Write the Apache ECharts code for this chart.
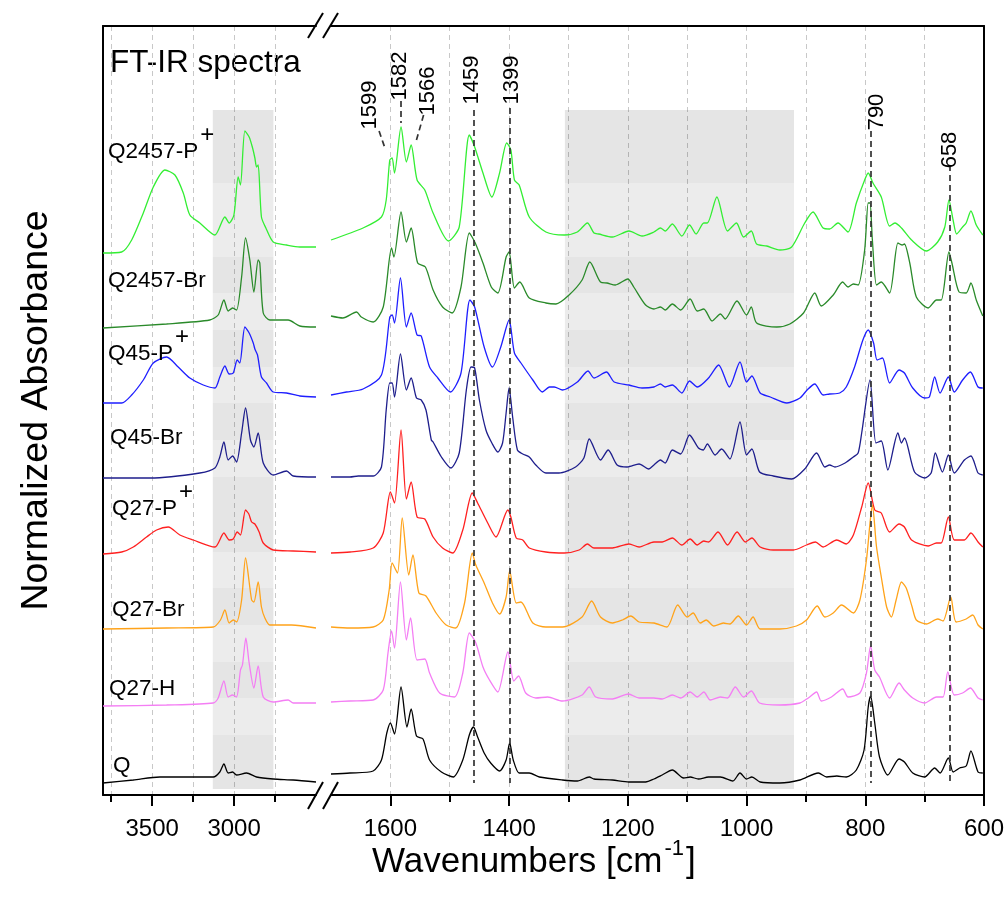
<!DOCTYPE html>
<html><head><meta charset="utf-8">
<script src="https://cdn.jsdelivr.net/npm/echarts@6/dist/echarts.min.js"></script>
<style>html,body{margin:0;padding:0;background:#fff}#c{width:1007px;height:905px}</style>
</head><body><div id="c"></div>
<script>
// ---------------- DATA ----------------
const sampleNames = ['Q2457-P+','Q2457-Br','Q45-P+','Q45-Br','Q27-P+','Q27-Br','Q27-H','Q'];
const leftTicks = [3500, 3000];
const leftMinor = [3750, 3250, 2750];
const rightTicks = [1600, 1400, 1200, 1000, 800, 600];
const rightMinor = [1500, 1300, 1100, 900, 700];
const peakLabels = ['1599','1582','1566','1459','1399','790','658'];
const peakLabelPos = [[1634,690],[1584,719],[1537,704],[1463,715],[1396,715],[781,683],[657,645]];
const peakLines = [[[1619,664],[1608,645]],[[1583,694],[1583,672]],[[1544,680],[1557,653]],
  [[1459,685],[1459,12]],[[1399,687],[1399,12]],[[790,664],[790,12]],[[658,630],[658,12]]];
const sampleLabelPos = [[3769,643],[3769,514],[3769,441],[3757,357],[3745,286],[3745,185],[3763,106],[3739,29]];
const shadeLeft = [3130, 2760];
const shadeRight = [1306, 920];
const shadeBands = [685,612,538,502,465,428,392,355,318,243,207,170,133,97,60,6];

const Q2457P_L = [[3800,542],[3686,543],[3625,555],[3554,582],[3493,608],[3422,625],[3361,620],[3310,602],[3270,580],[3209,572],[3117,560],[3056,578],[3030,572],[3001,580],[2975,618],[2961,610],[2934,664],[2908,658],[2887,647],[2873,637],[2863,628],[2853,630],[2833,578],[2806,567],[2761,553],[2680,550],[2599,548],[2500,548]];
const Q2457Br_L = [[3800,467],[3412,471],[3148,475],[3097,480],[3062,495],[3036,484],[3009,487],[2985,485],[2954,518],[2930,557],[2904,535],[2879,503],[2853,535],[2843,532],[2822,482],[2782,475],[2670,475],[2599,469],[2500,468]];
const Q45P_L = [[3800,392],[3686,392],[3625,400],[3554,415],[3493,432],[3412,438],[3341,428],[3270,417],[3188,410],[3117,407],[3087,418],[3056,429],[3030,421],[3005,422],[2981,435],[2965,432],[2934,468],[2908,462],[2883,452],[2873,446],[2857,440],[2833,418],[2802,412],[2761,403],[2680,402],[2599,399],[2500,398]];
const Q45Br_L = [[3800,317],[3513,317],[3209,322],[3117,327],[3087,338],[3062,353],[3036,335],[3009,339],[2985,333],[2954,362],[2930,387],[2900,355],[2879,348],[2853,362],[2822,332],[2761,320],[2680,324],[2639,319],[2500,318]];
const Q27P_L = [[3800,241],[3686,243],[3615,248],[3534,258],[3473,265],[3402,268],[3331,260],[3249,255],[3117,248],[3062,262],[3030,255],[3005,256],[2981,263],[2961,260],[2930,285],[2910,281],[2893,273],[2873,271],[2847,263],[2822,252],[2761,245],[2639,244],[2500,243]];
const Q27Br_L = [[3800,166],[3412,167],[3127,168],[3083,175],[3056,185],[3030,172],[3005,175],[2985,173],[2954,195],[2930,237],[2893,195],[2879,193],[2853,213],[2833,188],[2812,177],[2782,170],[2649,170],[2500,167]];
const Q27H_L = [[3800,89],[3412,90],[3127,92],[3097,97],[3062,114],[3036,98],[3009,100],[2985,98],[2961,125],[2949,130],[2928,157],[2908,132],[2879,107],[2853,129],[2822,98],[2761,93],[2670,95],[2639,92],[2500,92]];
const Q_L = [[3800,12],[3615,15],[3453,18],[3127,18],[3087,23],[3062,31],[3036,22],[3009,23],[2985,20],[2924,22],[2863,18],[2761,16],[2639,15],[2500,13]];

const Q2457P_R = [[1700,555],[1646,567],[1615,578],[1607,595],[1601,635],[1597,637],[1593,622],[1582,668],[1573,633],[1565,650],[1555,615],[1542,605],[1528,582],[1502,554],[1484,568],[1467,660],[1458,648],[1444,622],[1429,598],[1416,622],[1404,652],[1397,645],[1391,615],[1383,610],[1366,578],[1338,563],[1307,560],[1285,563],[1268,572],[1257,562],[1249,561],[1226,558],[1198,564],[1176,559],[1156,563],[1145,567],[1137,564],[1125,571],[1109,559],[1096,570],[1085,561],[1072,572],[1066,572],[1050,598],[1032,564],[1017,572],[1005,558],[992,564],[983,551],[966,549],[944,545],[924,548],[902,572],[888,583],[871,567],[860,566],[846,572],[829,563],[815,592],[801,615],[795,622],[787,612],[773,598],[759,569],[750,572],[739,567],[722,555],[697,544],[678,553],[666,568],[659,595],[652,575],[646,561],[636,568],[630,572],[622,584],[613,570],[602,560]];
const Q2457Br_R = [[1700,479],[1680,477],[1657,483],[1649,478],[1629,473],[1612,488],[1598,547],[1594,538],[1582,583],[1573,553],[1565,567],[1554,532],[1541,528],[1528,505],[1512,488],[1496,482],[1481,508],[1467,562],[1457,552],[1444,532],[1430,508],[1419,502],[1405,538],[1400,543],[1391,507],[1382,513],[1366,497],[1338,492],[1321,491],[1299,500],[1277,515],[1264,533],[1246,513],[1235,512],[1221,510],[1200,516],[1190,508],[1170,490],[1156,486],[1145,488],[1137,485],[1125,491],[1111,485],[1095,496],[1083,484],[1072,486],[1058,474],[1044,481],[1036,476],[1016,494],[1000,480],[992,488],[983,472],[949,468],[927,471],[904,482],[885,502],[874,489],[854,500],[838,513],[829,508],[820,511],[812,510],[801,545],[795,592],[792,592],[788,555],[781,510],[773,513],[759,502],[745,552],[738,550],[734,551],[725,532],[714,498],[694,487],[680,495],[672,495],[659,543],[654,532],[642,503],[630,502],[622,512],[613,495],[602,479]];
const Q45P_R = [[1700,400],[1674,403],[1646,406],[1615,420],[1601,478],[1597,480],[1593,472],[1583,517],[1573,468],[1565,482],[1555,460],[1548,459],[1534,428],[1520,417],[1499,403],[1481,422],[1466,495],[1458,488],[1442,448],[1428,428],[1414,448],[1400,475],[1391,442],[1380,432],[1360,415],[1344,403],[1332,408],[1324,408],[1310,405],[1285,413],[1267,424],[1257,417],[1236,423],[1223,413],[1198,410],[1176,407],[1156,408],[1145,411],[1137,408],[1125,410],[1109,402],[1096,414],[1083,408],[1064,417],[1047,430],[1029,408],[1011,433],[1000,413],[991,419],[977,402],[960,398],[932,392],[910,397],[898,405],[885,411],[871,400],[860,401],[843,402],[832,408],[818,428],[804,455],[795,465],[786,452],[780,435],[771,437],[759,412],[743,425],[734,422],[720,407],[700,397],[692,398],[683,418],[674,402],[660,418],[650,403],[636,415],[623,423],[610,408],[602,407]];
const Q45Br_R = [[1700,318],[1668,318],[1654,319],[1629,319],[1615,328],[1607,385],[1601,412],[1597,412],[1593,398],[1583,441],[1573,405],[1565,417],[1556,397],[1548,395],[1540,385],[1531,355],[1528,353],[1514,338],[1498,327],[1484,342],[1472,405],[1464,428],[1458,427],[1450,395],[1439,365],[1429,352],[1419,343],[1411,352],[1405,382],[1400,407],[1394,378],[1386,345],[1377,341],[1366,338],[1355,330],[1338,322],[1316,322],[1288,328],[1274,337],[1265,356],[1246,335],[1233,345],[1218,330],[1201,328],[1181,331],[1165,326],[1156,330],[1145,335],[1137,332],[1125,345],[1111,341],[1096,360],[1081,347],[1073,345],[1066,351],[1053,340],[1042,346],[1028,336],[1011,373],[1000,340],[991,346],[978,323],[955,319],[924,316],[902,326],[882,342],[868,328],[860,330],[851,328],[834,332],[820,338],[812,342],[806,362],[792,415],[782,352],[773,354],[762,325],[745,362],[739,352],[734,357],[717,323],[700,317],[689,322],[682,342],[670,323],[660,340],[650,322],[633,335],[622,339],[610,322],[602,320]];
const Q27P_R = [[1700,242],[1668,243],[1629,247],[1612,262],[1600,303],[1593,292],[1582,365],[1573,296],[1565,313],[1555,278],[1542,276],[1528,258],[1512,247],[1495,242],[1478,265],[1462,302],[1453,292],[1436,272],[1422,258],[1402,285],[1397,278],[1388,257],[1377,255],[1366,247],[1338,243],[1307,242],[1282,245],[1268,251],[1257,247],[1226,247],[1198,251],[1181,248],[1156,253],[1142,253],[1125,257],[1109,250],[1095,256],[1083,250],[1072,254],[1064,253],[1048,263],[1032,250],[1016,263],[1002,253],[991,257],[977,248],[955,245],[921,245],[899,250],[884,253],[871,248],[848,255],[832,251],[820,260],[806,288],[795,312],[784,285],[773,282],[759,263],[743,271],[734,268],[722,255],[694,249],[680,252],[672,252],[660,278],[650,255],[633,255],[622,262],[610,253],[602,248]];
const Q27Br_R = [[1700,168],[1668,167],[1629,168],[1612,175],[1602,205],[1597,232],[1588,222],[1580,277],[1569,220],[1562,240],[1552,202],[1540,199],[1523,182],[1506,170],[1490,167],[1475,192],[1462,242],[1456,230],[1442,212],[1428,192],[1416,181],[1405,198],[1399,224],[1388,192],[1380,193],[1360,172],[1338,168],[1310,168],[1277,178],[1261,194],[1246,178],[1226,172],[1209,175],[1195,179],[1181,173],[1156,172],[1134,168],[1116,190],[1100,178],[1090,182],[1078,172],[1068,175],[1055,169],[1039,172],[1028,171],[1014,179],[1000,170],[989,178],[977,166],[944,166],[916,169],[899,175],[881,189],[868,178],[854,182],[840,190],[820,182],[809,195],[798,235],[792,272],[788,290],[781,248],[773,218],[764,188],[756,178],[748,195],[739,213],[731,207],[721,188],[714,175],[697,171],[678,176],[669,174],[656,198],[647,173],[630,176],[619,180],[610,170],[602,166]];
const Q27H_R = [[1700,93],[1668,94],[1629,95],[1612,105],[1604,142],[1598,164],[1593,147],[1583,213],[1573,155],[1566,177],[1555,135],[1542,136],[1534,122],[1517,102],[1492,98],[1478,122],[1467,162],[1456,152],[1444,128],[1433,115],[1419,103],[1402,143],[1392,114],[1384,119],[1372,102],[1355,97],[1335,98],[1310,94],[1277,100],[1265,108],[1254,98],[1226,96],[1199,101],[1181,97],[1156,97],[1142,96],[1125,100],[1111,97],[1095,103],[1083,98],[1072,103],[1061,95],[1044,98],[1032,97],[1019,108],[1005,98],[992,104],[978,92],[944,90],[910,92],[896,97],[882,103],[874,94],[857,98],[838,106],[829,98],[809,102],[798,122],[791,149],[784,125],[776,118],[759,97],[743,112],[734,105],[720,97],[700,92],[680,98],[669,98],[661,123],[650,100],[636,102],[623,107],[610,97],[602,95]];
const Q_R = [[1700,21],[1668,22],[1629,24],[1615,35],[1606,62],[1600,72],[1593,61],[1582,108],[1572,68],[1565,86],[1556,59],[1545,56],[1534,35],[1514,23],[1494,18],[1478,35],[1467,60],[1460,68],[1453,58],[1442,42],[1431,32],[1416,24],[1405,35],[1399,52],[1393,35],[1383,22],[1366,22],[1349,18],[1310,15],[1285,14],[1265,18],[1257,16],[1226,15],[1198,13],[1170,13],[1156,16],[1142,20],[1125,25],[1106,17],[1095,18],[1081,16],[1064,18],[1044,18],[1023,14],[1011,22],[1000,16],[991,18],[977,13],[944,12],[910,15],[879,22],[865,18],[848,19],[832,18],[815,25],[802,45],[795,88],[791,99],[784,72],[776,38],[762,20],[743,36],[734,33],[720,22],[700,18],[683,27],[674,22],[660,37],[652,23],[641,27],[630,29],[622,44],[610,23],[602,22]];

const leftData = [Q2457P_L, Q2457Br_L, Q45P_L, Q45Br_L, Q27P_L, Q27Br_L, Q27H_L, Q_L];
const rightData = [Q2457P_R, Q2457Br_R, Q45P_R, Q45Br_R, Q27P_R, Q27Br_R, Q27H_R, Q_R];

// ---------------- STYLE / OPTION ----------------
const FONT = 'Arial, "Liberation Sans", Helvetica, sans-serif';
const colors = ['#33ee33','#2a8a2a','#1e1eff','#1e1e8c','#ff2020','#ffa31a','#f47ef4','#000000'];
const YMAX = 769;

function bandAreas(xr) {
  const out = [];
  for (let i = 0; i < shadeBands.length - 1; i++) {
    out.push([{coord:[xr[0], shadeBands[i]], itemStyle:{color: i % 2 === 0 ? 'rgba(0,0,0,0.10)' : 'rgba(0,0,0,0.075)'}},
              {coord:[xr[1], shadeBands[i+1]]}]);
  }
  return out;
}

function mainX(grid, min, max, ticks) {
  return {gridIndex:grid, type:'value', min:min, max:max, inverse:true, position:'bottom',
    axisLine:{show:true, onZero:false, lineStyle:{color:'#000', width:2}},
    axisTick:{show:true, customValues:ticks, length:11, lineStyle:{color:'#000', width:2}},
    axisLabel:{show:true, customValues:ticks, fontSize:24, color:'#000', margin:22, fontFamily:FONT, formatter: v => String(v)},
    splitLine:{show:false}};
}
function minorX(grid, min, max, ticks) {
  return {gridIndex:grid, type:'value', min:min, max:max, inverse:true, position:'bottom',
    axisLine:{show:false, onZero:false}, axisTick:{show:true, customValues:ticks, length:7, lineStyle:{color:'#000', width:2}},
    axisLabel:{show:false}, splitLine:{show:false}};
}
function gridX(grid, min, max, interval) {
  return {gridIndex:grid, type:'value', min:min, max:max, inverse:true, interval:interval, position:'bottom',
    axisLine:{show:false, onZero:false}, axisTick:{show:false}, axisLabel:{show:false},
    splitLine:{show:true, showMinLine:false, showMaxLine:false, lineStyle:{color:'#c8c8c8', type:[5,4], width:1}}};
}
function topX(grid, min, max) {
  return {gridIndex:grid, type:'value', min:min, max:max, inverse:true, position:'top',
    axisLine:{show:true, onZero:false, lineStyle:{color:'#000', width:2}}, axisTick:{show:false}, axisLabel:{show:false}, splitLine:{show:false}};
}

const series = [];
// shading carriers
series.push({type:'line', xAxisIndex:0, yAxisIndex:0, data:[], z:1, silent:true,
  markArea:{silent:true, data:bandAreas(shadeLeft)}});
series.push({type:'line', xAxisIndex:4, yAxisIndex:1, data:[], z:1, silent:true,
  markArea:{silent:true, data:bandAreas(shadeRight)}});

for (let i = 0; i < sampleNames.length; i++) {
  series.push({type:'line', name:sampleNames[i], xAxisIndex:0, yAxisIndex:0, data:leftData[i],
    showSymbol:false, smooth:0.25, z:3, lineStyle:{color:colors[i], width:1.3}, itemStyle:{color:colors[i]}});
  series.push({type:'line', name:sampleNames[i], xAxisIndex:4, yAxisIndex:1, data:rightData[i],
    showSymbol:false, smooth:0.25, z:3, lineStyle:{color:colors[i], width:1.3}, itemStyle:{color:colors[i]}});
}

// sample labels
series.push({type:'line', xAxisIndex:0, yAxisIndex:0, data:[], z:5, silent:true,
  markPoint:{silent:true, symbol:'circle', symbolSize:0, data: sampleNames.map((n, i) => ({coord:sampleLabelPos[i], value:n,
    label:{show:true, position:'right', distance:0, color:'#000', fontSize:22.5, fontFamily:FONT,
      formatter: n.endsWith('+') ? n.slice(0,-1) + '{s|+}' : n,
      rich:{s:{fontSize:24, fontFamily:FONT, color:'#000', padding:[0,0,34,2]}}}}))}});

// peak annotations
series.push({type:'line', xAxisIndex:4, yAxisIndex:1, data:[], z:5, silent:true,
  markLine:{silent:true, symbol:['none','none'], label:{show:false},
    lineStyle:{color:'#333', type:[6,4], width:1.7},
    data: peakLines.map(p => [{coord:p[0]}, {coord:p[1]}])},
  markPoint:{silent:true, symbol:'circle', symbolSize:0, data: peakLabels.map((t, i) => ({coord:peakLabelPos[i], value:t,
    label:{show:true, position:'inside', rotate:90, formatter:t, color:'#000', fontSize:22, fontFamily:FONT}}))}});

const option = {
  animation:false,
  backgroundColor:'#fff',
  grid:[{left:103, top:26, width:213, height:769}, {left:331, top:26, width:655, height:769}],
  xAxis:[mainX(0,2500,3800,leftTicks), minorX(0,2500,3800,leftMinor), gridX(0,2500,3800,250), topX(0,2500,3800),
         mainX(1,600,1700,rightTicks), minorX(1,600,1700,rightMinor), gridX(1,600,1700,100), topX(1,600,1700)],
  yAxis:[
    {gridIndex:0, type:'value', min:0, max:YMAX, position:'left',
     axisLine:{show:true, onZero:false, lineStyle:{color:'#000', width:2}}, axisTick:{show:false}, axisLabel:{show:false}, splitLine:{show:false},
     name:'Normalized Absorbance', nameLocation:'middle', nameGap:47, nameRotate:90,
     nameTextStyle:{fontSize:37.5, color:'#000', fontFamily:FONT}},
    {gridIndex:1, type:'value', min:0, max:YMAX, position:'right',
     axisLine:{show:true, onZero:false, lineStyle:{color:'#000', width:2}}, axisTick:{show:false}, axisLabel:{show:false}, splitLine:{show:false}}
  ],
  series: series,
  graphic:[
    {type:'text', left:110, top:47, style:{text:'FT-IR spectra', fontSize:31.5, fontFamily:FONT, fill:'#000'}},
    {type:'text', left:372, top:838, style:{text:'Wavenumbers [cm{s|-1}]', fontSize:35, fontFamily:FONT, fill:'#000',
      rich:{s:{fontSize:22, fontFamily:FONT, fill:'#000', padding:[0,2,26,2]}}}},
    {type:'line', shape:{x1:308, y1:38, x2:323, y2:13}, style:{stroke:'#000', lineWidth:2}},
    {type:'line', shape:{x1:323, y1:38, x2:338, y2:13}, style:{stroke:'#000', lineWidth:2}},
    {type:'line', shape:{x1:308, y1:809, x2:323, y2:782}, style:{stroke:'#000', lineWidth:2}},
    {type:'line', shape:{x1:323, y1:809, x2:338, y2:782}, style:{stroke:'#000', lineWidth:2}}
  ]
};
const chart = echarts.init(document.getElementById('c'));
chart.setOption(option);
</script></body></html>
